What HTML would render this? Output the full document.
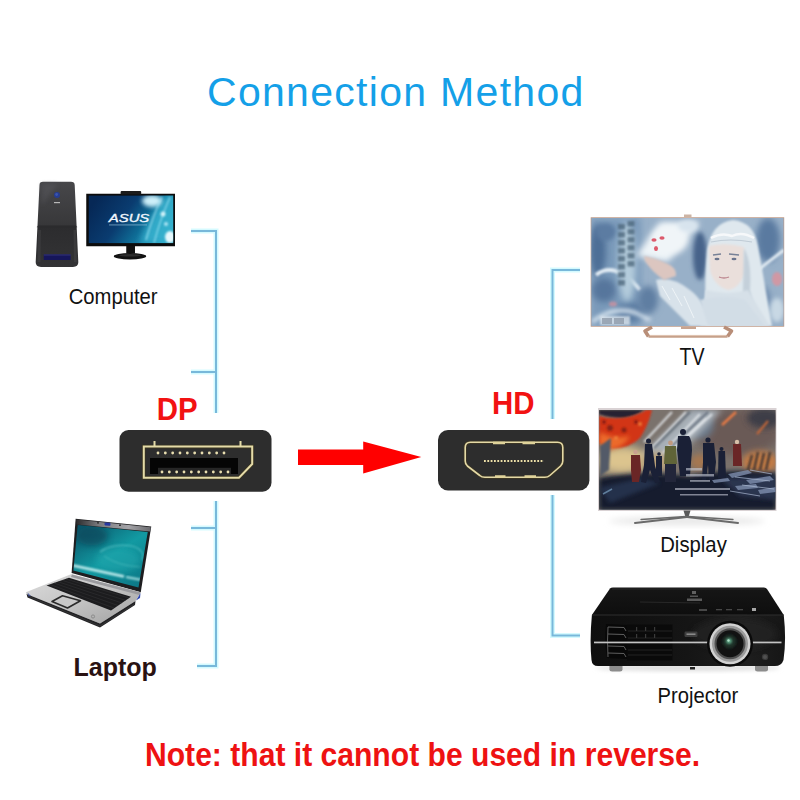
<!DOCTYPE html>
<html><head><meta charset="utf-8">
<style>
html,body{margin:0;padding:0;background:#fff;width:800px;height:800px;overflow:hidden}
svg{display:block}
text{font-family:"Liberation Sans",sans-serif}
</style></head><body>
<svg width="800" height="800" viewBox="0 0 800 800">
<rect width="800" height="800" fill="#fff"/>
<defs>
<filter id="b1" x="-50%" y="-50%" width="200%" height="200%"><feGaussianBlur stdDeviation="1"/></filter>
<filter id="b2" x="-50%" y="-50%" width="200%" height="200%"><feGaussianBlur stdDeviation="2"/></filter>
<filter id="b3" x="-50%" y="-50%" width="200%" height="200%"><feGaussianBlur stdDeviation="3"/></filter>
<filter id="b5" x="-50%" y="-50%" width="200%" height="200%"><feGaussianBlur stdDeviation="5"/></filter>
<linearGradient id="towerG" x1="0" y1="0" x2="0" y2="1">
 <stop offset="0" stop-color="#47474a"/><stop offset="0.5" stop-color="#38383a"/><stop offset="0.52" stop-color="#2c2c2e"/><stop offset="1" stop-color="#333335"/>
</linearGradient>
<linearGradient id="monG" x1="0" y1="0.3" x2="1" y2="0.7">
 <stop offset="0" stop-color="#062856"/><stop offset="0.4" stop-color="#0a3c70"/><stop offset="0.65" stop-color="#0e6a94"/><stop offset="1" stop-color="#2ea8c8"/>
</linearGradient>
<linearGradient id="lapScr" x1="0" y1="0" x2="0.8" y2="1">
 <stop offset="0" stop-color="#0a4e64"/><stop offset="0.55" stop-color="#129aa2"/><stop offset="1" stop-color="#0d7a88"/>
</linearGradient>
<linearGradient id="lapBez" x1="0" y1="0" x2="1" y2="0">
 <stop offset="0" stop-color="#2a2a2c"/><stop offset="0.3" stop-color="#7a7a7e"/><stop offset="0.7" stop-color="#a4a4a8"/><stop offset="1" stop-color="#6a6a6e"/>
</linearGradient>
<linearGradient id="lapDeck" x1="0" y1="0" x2="1" y2="1">
 <stop offset="0" stop-color="#dcdcdc"/><stop offset="0.5" stop-color="#c4c4c4"/><stop offset="1" stop-color="#a0a0a0"/>
</linearGradient>
<linearGradient id="projTop" x1="0" y1="0" x2="0" y2="1">
 <stop offset="0" stop-color="#161616"/><stop offset="1" stop-color="#0e0e0e"/>
</linearGradient>
<linearGradient id="projFront" x1="0" y1="0" x2="1" y2="0">
 <stop offset="0" stop-color="#0e0e0e"/><stop offset="0.5" stop-color="#151515"/><stop offset="0.8" stop-color="#1e1e1e"/><stop offset="1" stop-color="#161616"/>
</linearGradient>
<clipPath id="tvClip"><rect x="591.5" y="218" width="192" height="108"/></clipPath>
<clipPath id="dispClip"><rect x="599" y="410" width="176.5" height="100"/></clipPath>
<clipPath id="monClip"><rect x="88.75" y="195.6" width="84.4" height="47.5"/></clipPath>
<clipPath id="lapClip"><path d="M77.75 524.9 L147.75 531.9 L138.1 588.75 L73.4 570.4 Z"/></clipPath>
</defs>

<!-- title -->
<text x="207" y="105.5" font-size="41" fill="#14a0e8" letter-spacing="1.3">Connection Method</text>

<!-- blue lines left -->
<g stroke="#d0faff" stroke-width="5" fill="none" opacity="0.9">
<path d="M191 231 H216 V413"/><path d="M191 372 H216"/><path d="M216 501 V666 H197"/><path d="M191 528 H216"/><path d="M580 270 H552.5 V419"/><path d="M552.5 495 V635.5 H580"/>
</g>
<g stroke="#78b8da" stroke-width="2" fill="none">
<path d="M191 231 H216 V413"/>
<path d="M191 372 H216"/>
<path d="M216 501 V666 H197"/>
<path d="M191 528 H216"/>
<!-- right -->
<path d="M580 270 H552.5 V419"/>
<path d="M552.5 495 V635.5 H580"/>
</g>

<!-- labels -->
<text transform="translate(68.7 303.5) scale(0.9 1)" font-size="22.5" fill="#111">Computer</text>
<text x="73.5" y="675.5" font-size="25" font-weight="bold" fill="#2a1212">Laptop</text>
<text transform="translate(679.6 364.75) scale(0.84 1)" font-size="23.35" fill="#111">TV</text>
<text transform="translate(660.2 551.8) scale(0.913 1)" font-size="22.25" fill="#111">Display</text>
<text transform="translate(657.5 702.8) scale(0.894 1)" font-size="22.6" fill="#111">Projector</text>
<text transform="translate(156.8 419.6) scale(0.92 1)" font-size="32" font-weight="bold" fill="#f21212">DP</text>
<text transform="translate(492 413.9) scale(0.92 1)" font-size="32" font-weight="bold" fill="#f21212">HD</text>
<text transform="translate(145 765.8) scale(0.912 1)" font-size="33" font-weight="bold" fill="#ee1212">Note: that it cannot be used in reverse.</text>

<!-- arrow -->
<path d="M298 449.6 H363.2 V441.4 L421.3 457.1 L363.2 473.4 V465 H298 Z" fill="#ff0000"/>

<!-- DP connector -->
<rect x="119.5" y="430" width="152" height="61.7" rx="9" fill="#2d2d2d"/>
<path d="M143.8 446.6 H252.2 V464 L239 477.8 H143.8 Z" fill="#2d2d2d" stroke="#3a3420" stroke-width="3.6"/>
<path d="M143.8 446.6 H252.2 V464 L239 477.8 H143.8 Z" fill="none" stroke="#e4dba8" stroke-width="2"/>
<rect x="150" y="458" width="88" height="16" fill="#050505"/>
<rect x="158" y="467.8" width="73" height="6.2" fill="#262626"/>
<path d="M154.5 441 V446 M240.5 441 V446" stroke="#e4dba8" stroke-width="2"/>
<g fill="#eadfb0">
<circle cx="158" cy="453" r="1.4"/><circle cx="165.33" cy="453" r="1.4"/><circle cx="172.67" cy="453" r="1.4"/><circle cx="180" cy="453" r="1.4"/><circle cx="187.33" cy="453" r="1.4"/><circle cx="194.67" cy="453" r="1.4"/><circle cx="202" cy="453" r="1.4"/><circle cx="209.33" cy="453" r="1.4"/><circle cx="216.67" cy="453" r="1.4"/><circle cx="224" cy="453" r="1.4"/>
<circle cx="162" cy="472" r="1.4"/><circle cx="169.33" cy="472" r="1.4"/><circle cx="176.67" cy="472" r="1.4"/><circle cx="184" cy="472" r="1.4"/><circle cx="191.33" cy="472" r="1.4"/><circle cx="198.67" cy="472" r="1.4"/><circle cx="206" cy="472" r="1.4"/><circle cx="213.33" cy="472" r="1.4"/><circle cx="220.67" cy="472" r="1.4"/><circle cx="228" cy="472" r="1.4"/>
</g>

<!-- HD connector -->
<rect x="438" y="430" width="151.4" height="60.5" rx="10" fill="#2d2d2d"/>
<path id="hdo" d="M470.5 442.3 H557.5 Q562.8 442.3 562.8 447.5 V461 Q562.8 464 560.6 466 L549.8 475.5 Q547.8 477.3 544.8 477.3 H484.8 Q481.8 477.3 479.8 475.5 L467.4 466 Q465.2 464 465.2 461 V447.5 Q465.2 442.3 470.5 442.3 Z" fill="none" stroke="#3c3624" stroke-width="3.2" stroke-linejoin="round"/>
<path d="M470.5 442.3 H557.5 Q562.8 442.3 562.8 447.5 V461 Q562.8 464 560.6 466 L549.8 475.5 Q547.8 477.3 544.8 477.3 H484.8 Q481.8 477.3 479.8 475.5 L467.4 466 Q465.2 464 465.2 461 V447.5 Q465.2 442.3 470.5 442.3 Z" fill="none" stroke="#e4d9a6" stroke-width="1.6" stroke-linejoin="round"/>
<path d="M493 443 H505 M522.5 443 H535 M495 476.6 H505.5 M524.5 476.6 H536" stroke="#e0d39a" stroke-width="2.6"/>
<line x1="484" y1="461" x2="544" y2="461" stroke="#ecdfa8" stroke-width="1.8" stroke-dasharray="1.8 1.53"/>

<!-- computer -->
<g>
<path d="M39.5 185 Q39.5 181.8 43 181.8 H71 Q74.5 181.8 74.7 185 L78.3 262 Q78.5 267 73 267 H41 Q35.5 267 35.7 262 Z" fill="url(#towerG)"/>
<path d="M37 226 L77 226 L77.2 227.5 L36.8 227.5 Z" fill="#29292b" opacity="0.5"/>
<path d="M41.5 184 Q48 183 58 184 L42 205 Z" fill="#5a5a5e" opacity="0.45" filter="url(#b2)"/>
<path d="M38 230 L41 230 L40.5 262 L37.5 262 Z" fill="#444446" opacity="0.5"/>
<path d="M73.5 230 L76.2 230 L76.8 262 L74 262 Z" fill="#444446" opacity="0.5"/>
<rect x="43.75" y="254.4" width="26.9" height="5.6" fill="#16165a"/>
<rect x="43.75" y="254.4" width="26.9" height="1.2" fill="#3a3a80" opacity="0.7"/>
<circle cx="57" cy="195" r="3" fill="#263c92"/>
<circle cx="56.6" cy="194.5" r="1.4" fill="#4a68c0" opacity="0.6"/>
<rect x="54" y="202" width="6" height="1.2" fill="#b8b8b8"/>
<rect x="86.25" y="193.75" width="88.75" height="52.5" fill="#0c0c0c"/>
<rect x="120.6" y="191" width="20.6" height="3.5" rx="1" fill="#1c1c1c"/>
<rect x="88.75" y="195.6" width="84.4" height="47.5" fill="url(#monG)"/>
<g clip-path="url(#monClip)">
<path d="M140 243 Q150 215 165 195 L180 195 L180 243 Z" fill="#38b4d0" opacity="0.8" filter="url(#b3)"/>
<ellipse cx="152" cy="201" rx="10" ry="6" fill="#d8f8ff" opacity="0.95" filter="url(#b2)"/>
<path d="M146 240 Q152 218 162 197" stroke="#b8f0ff" stroke-width="1.2" fill="none" opacity="0.8" filter="url(#b1)"/>
<path d="M154 243 Q160 220 170 197" stroke="#b8f0ff" stroke-width="1.2" fill="none" opacity="0.7" filter="url(#b1)"/>
<circle cx="163" cy="214" r="2.5" fill="#e8fcff" opacity="0.85" filter="url(#b1)"/>
<ellipse cx="170" cy="237" rx="5" ry="6" fill="#f0fcff" opacity="0.95" filter="url(#b1)"/>
<ellipse cx="166" cy="224" rx="2" ry="2" fill="#d0f4ff" opacity="0.8" filter="url(#b1)"/>
</g>
<text x="108.8" y="222.3" font-size="11" font-style="italic" fill="#f2f8ff" textLength="40.5" lengthAdjust="spacingAndGlyphs" stroke="#f2f8ff" stroke-width="0.3">ASUS</text>
<rect x="109" y="224.6" width="38" height="0.7" fill="#90bcd8"/>
<rect x="126.25" y="246" width="8.75" height="7.5" fill="#111"/>
<ellipse cx="130" cy="256.2" rx="16.2" ry="3.2" fill="#121212"/>
<ellipse cx="130" cy="255.3" rx="11" ry="1.3" fill="#4a4a4a" opacity="0.5"/>
</g>
<!-- laptop -->
<g>
<path d="M75.65 518.75 L151.25 526.6 L140.75 592.25 L71.6 573 Z" fill="#1e1e20"/>
<path d="M76 519.5 L150.8 527.3 L150.2 531.5 L76.5 524.5 Z" fill="url(#lapBez)"/>
<path d="M77.75 524.9 L147.75 531.9 L138.5 587.5 L73.4 570.4 Z" fill="url(#lapScr)"/>
<g clip-path="url(#lapClip)">
<ellipse cx="92" cy="536" rx="16" ry="10" fill="#07465a" opacity="0.7" filter="url(#b3)"/>
<ellipse cx="118" cy="560" rx="22" ry="12" fill="#20a8ae" opacity="0.55" filter="url(#b3)"/>
<path d="M100 552 Q112 543 132 546 Q146 550 142 560" fill="none" stroke="#70d0d0" stroke-width="1.1" opacity="0.75" filter="url(#b1)"/>
<path d="M104 556 Q118 566 140 567" fill="none" stroke="#60c8c8" stroke-width="1" opacity="0.6" filter="url(#b1)"/>
<path d="M73 565.5 L124 576.5" stroke="#d0f4f4" stroke-width="2.6" opacity="0.95" filter="url(#b1)"/>
<path d="M126 577 L142 580" stroke="#b8ecec" stroke-width="2.2" opacity="0.9" filter="url(#b1)"/>
</g>
<rect x="104.5" y="522.6" width="6" height="3" rx="1" fill="#2838a0" transform="rotate(6 107 524)"/>
<circle cx="98" cy="522.8" r="0.9" fill="#222"/><circle cx="120" cy="525.2" r="0.9" fill="#222"/>
<path d="M25.8 592.3 L71.6 573.9 L140.75 592.25 L135.5 601 L100 623.5 L26.5 594 Z" fill="url(#lapDeck)"/>
<path d="M26.5 594 L100 623.5 L135.5 601 L135 605 L100 627.5 L27.5 597.5 Z" fill="#222224"/>
<path d="M30 597 L100 626 L134 604.5" stroke="#555" stroke-width="0.6" fill="none" opacity="0.6"/>
<path d="M72 574.5 L140.5 592.5 L139.5 595 L71 577 Z" fill="#9a9a9e"/>
<path d="M46.5 585.4 L69 577.8 L131 596.8 L111 610.6 Z" fill="#1c1c1e"/>
<g stroke="#3a3a3c" stroke-width="0.5" opacity="0.9">
<path d="M50 584.5 L114 608"/><path d="M54 583 L118 605.5"/><path d="M58 581.7 L122 603"/><path d="M62 580.3 L126 600.5"/><path d="M66 579 L129 598"/>
</g>
<path d="M52 601.5 L62.5 595.8 L80.5 600.8 L67.5 608 Z" fill="#c8c8c8" stroke="#2a2a2a" stroke-width="1.6" stroke-linejoin="round"/>
<path d="M136 600.5 L140.5 593 L140 598 Z" fill="#3048b0"/>
<path d="M27.5 592.5 L28.5 596.5 L31 596 Z" fill="#4050a0" opacity="0.8"/>
<circle cx="93" cy="616.5" r="1.6" fill="none" stroke="#666" stroke-width="0.5"/>
</g>
<!-- TV -->
<g>
<rect x="590.7" y="217.3" width="193.5" height="109.4" fill="#bb9580"/>
<rect x="591.8" y="218.4" width="191.3" height="107.2" fill="#9fb4c8"/>
<g clip-path="url(#tvClip)">
<rect x="591" y="218" width="193" height="108" fill="#98b0c8"/>
<rect x="591" y="218" width="50" height="108" fill="#7a9aba" filter="url(#b3)"/>
<ellipse cx="598" cy="250" rx="8" ry="26" fill="#4e6e96" filter="url(#b3)"/>
<ellipse cx="606" cy="232" rx="10" ry="9" fill="#5c7ca2" filter="url(#b2)"/>
<ellipse cx="604" cy="290" rx="12" ry="12" fill="#56769c" filter="url(#b3)"/>
<ellipse cx="630" cy="312" rx="14" ry="10" fill="#5a7aa0" filter="url(#b3)"/>
<path d="M596 275 Q615 260 640 290" stroke="#e2ecf4" stroke-width="4" fill="none" filter="url(#b1)"/>
<path d="M592 322 Q620 300 650 320" stroke="#dce8f2" stroke-width="4" fill="none" filter="url(#b2)"/>
<ellipse cx="627" cy="262" rx="9" ry="40" fill="#b4ccdc" filter="url(#b3)"/>
<path d="M636 256 L660 222 L700 222 L668 262 Z" fill="#eef4f8" filter="url(#b3)"/>
<ellipse cx="670" cy="240" rx="18" ry="14" fill="#f0f5f8" filter="url(#b3)"/>
<ellipse cx="648" cy="300" rx="10" ry="14" fill="#5e7ea2" filter="url(#b3)"/>
<ellipse cx="700" cy="256" rx="7" ry="24" fill="#46648a" filter="url(#b2)"/>
<ellipse cx="688" cy="226" rx="10" ry="6" fill="#d8e4ee" filter="url(#b2)"/>
<ellipse cx="768" cy="240" rx="12" ry="22" fill="#5a7aa0" filter="url(#b3)"/>
<ellipse cx="762" cy="300" rx="8" ry="14" fill="#6684a8" filter="url(#b3)"/>
<path d="M758 270 L784 250" stroke="#e0eaf2" stroke-width="3" filter="url(#b1)"/>
<ellipse cx="777" cy="310" rx="7" ry="12" fill="#c8d8e4" filter="url(#b2)"/>
<ellipse cx="777" cy="279" rx="5" ry="7" fill="#d098a4" filter="url(#b1)"/>
<!-- figure hair / hood -->
<path d="M706 326 Q704 280 707 250 Q712 222 733 220 Q754 222 758 246 Q764 280 772 326 Z" fill="#dfe8ee" filter="url(#b1)"/>
<path d="M711 238 Q722 232 732 236 Q742 231 754 238" stroke="#f6f8fa" stroke-width="2.5" fill="none"/>
<path d="M711 242 Q730 238 752 242" stroke="#b8c4d0" stroke-width="1.2" fill="none" opacity="0.8"/>
<!-- face -->
<path d="M709 246 Q726 242 744 247 L745 272 Q740 288 728 290 Q714 286 710 270 Z" fill="#eadfdb" filter="url(#b1)"/>
<g stroke="#5a6a86" stroke-width="1.4" opacity="0.8"><path d="M713 255 L721 254"/><path d="M729 254 L739 255"/></g>
<g fill="#4a5a7a" opacity="0.8"><ellipse cx="717" cy="259" rx="2.5" ry="1.2"/><ellipse cx="734" cy="259" rx="2.5" ry="1.2"/></g>
<path d="M719 277 Q724 279 729 277" stroke="#b88088" stroke-width="1.3" fill="none" opacity="0.9"/>
<path d="M744 248 Q752 262 750 290 L758 326 H742 L743 290 Z" fill="#c4d0da" filter="url(#b1)"/>
<path d="M706 290 Q728 296 748 290 L770 326 H700 Z" fill="#d6e0e8" filter="url(#b1)"/>
<!-- arm sleeve -->
<path d="M656 280 Q672 276 690 290 Q704 300 712 326 H690 Q676 312 660 296 Z" fill="#d8e2ea" filter="url(#b1)"/>
<g stroke="#f4f8fa" stroke-width="1" opacity="0.8"><path d="M662 286 L670 300"/><path d="M672 288 L682 306"/><path d="M684 296 L694 318"/></g>
<path d="M700 300 Q728 294 745 300 L765 326 H708 Z" fill="#d2dde6" filter="url(#b1)"/>
<!-- hand -->
<path d="M644 256 Q656 258 668 264 Q677 268 676 276 L664 280 Q652 272 645 261 Z" fill="#dcc6c0" filter="url(#b1)"/>
<!-- text columns -->
<g fill="#4a6478" opacity="0.75" filter="url(#b1)">
<rect x="627.5" y="221" width="7" height="5.5"/><rect x="627.5" y="229" width="7" height="5.5"/><rect x="627.5" y="237" width="7" height="5.5"/><rect x="627.5" y="245" width="7" height="5.5"/><rect x="627.5" y="253" width="7" height="5.5"/><rect x="627.5" y="261" width="7" height="5.5"/>
<rect x="618" y="224" width="7" height="5.5"/><rect x="618" y="232" width="7" height="5.5"/><rect x="618" y="240" width="7" height="5.5"/><rect x="618" y="248" width="7" height="5.5"/><rect x="618" y="256" width="7" height="5.5"/><rect x="618" y="264" width="7" height="5.5"/><rect x="618" y="272" width="7" height="5.5"/><rect x="618" y="280" width="7" height="5.5"/>
</g>
<g fill="#e8eef2" opacity="0.7" filter="url(#b1)"><rect x="600" y="316" width="30" height="9"/></g>
<g fill="#7e8a9a" opacity="0.6"><rect x="602" y="318" width="10" height="6"/><rect x="614" y="318" width="10" height="6"/></g>
<ellipse cx="613" cy="304" rx="4" ry="2.5" fill="#d8909c" opacity="0.7" filter="url(#b1)"/>
<g fill="#dc5a6c"><ellipse cx="654" cy="240" rx="2.6" ry="1.8"/><ellipse cx="662" cy="238" rx="2.6" ry="1.8"/><ellipse cx="656" cy="248.5" rx="2" ry="2.6"/></g>
</g>
<rect x="684" y="214.5" width="7.5" height="3" fill="#cdb4a4"/>
<path d="M652 327 L645 331 L648.5 336.5" fill="none" stroke="#b88e78" stroke-width="3.6" stroke-linejoin="round"/>
<path d="M724 327 L731.5 331 L727.5 336.5" fill="none" stroke="#b88e78" stroke-width="3.6" stroke-linejoin="round"/>
<path d="M648.5 336.5 H727.5" stroke="#c6a08a" stroke-width="2.6"/>
<path d="M650 335.4 H726" stroke="#e2c8b6" stroke-width="0.8"/>
<rect x="681" y="326.5" width="15" height="2.5" fill="#c8a490"/>
</g>
<!-- Display -->
<g>
<ellipse cx="687" cy="521" rx="78" ry="4" fill="#e6e6e6" filter="url(#b3)"/>
<rect x="598" y="408" width="178.5" height="103" fill="#d9d2d4"/>
<rect x="599" y="410" width="176.5" height="99.5" fill="#7a726c"/>
<g clip-path="url(#dispClip)">
<!-- right smoke brown -->
<ellipse cx="738" cy="432" rx="42" ry="24" fill="#6a5a56" filter="url(#b5)"/>
<ellipse cx="765" cy="418" rx="18" ry="10" fill="#3c3c46" filter="url(#b3)"/>
<ellipse cx="700" cy="425" rx="14" ry="14" fill="#6a7888" filter="url(#b3)"/>
<!-- smoke streaks light -->
<path d="M636 460 L690 410 L722 410 L668 466 Z" fill="#a8b0b8" filter="url(#b3)"/>
<g stroke="#e4e8ec" stroke-width="2.2" opacity="0.85" filter="url(#b1)">
<path d="M648 452 L686 412"/><path d="M660 456 L700 414"/><path d="M644 442 L672 412"/><path d="M668 452 L706 418"/><path d="M676 448 L712 414"/>
</g>
<g stroke="#4c5868" stroke-width="1.8" opacity="0.7" filter="url(#b1)">
<path d="M654 448 L690 412"/><path d="M672 446 L708 412"/><path d="M662 440 L680 422"/>
</g>
<!-- top left dark -->
<path d="M599 410 H644 Q636 416 624 418 Q610 418 599 414 Z" fill="#282232" filter="url(#b1)"/>
<!-- yellow/tan haze -->
<ellipse cx="622" cy="460" rx="26" ry="14" fill="#dcc48e" filter="url(#b5)"/>
<ellipse cx="655" cy="462" rx="14" ry="10" fill="#b8a078" filter="url(#b3)"/>
<!-- fire -->
<path d="M599 416 Q612 420 628 417 Q640 414 646 410 L652 410 Q648 426 640 438 Q630 448 614 448 Q604 446 599 442 Z" fill="#d23418" filter="url(#b1)"/>
<path d="M600 432 Q614 440 630 436 Q624 448 608 450 Q601 446 599 442 Z" fill="#ec6a2a" filter="url(#b2)"/>
<g fill="#6e1a12" opacity="0.75" filter="url(#b1)"><circle cx="610" cy="428" r="3"/><circle cx="624" cy="430" r="2.5"/><circle cx="636" cy="422" r="2"/><circle cx="604" cy="422" r="2"/></g>
<g fill="#f08a40" opacity="0.8" filter="url(#b1)"><circle cx="640" cy="424" r="2"/><circle cx="616" cy="438" r="2"/></g>
<path d="M722 425 L736 412" stroke="#e87a44" stroke-width="2.5" filter="url(#b1)"/>
<path d="M757 434 L768 421" stroke="#c86838" stroke-width="2" filter="url(#b1)"/>
<ellipse cx="760" cy="462" rx="18" ry="11" fill="#c47c44" filter="url(#b3)"/>
<ellipse cx="700" cy="462" rx="10" ry="8" fill="#b07848" opacity="0.8" filter="url(#b3)"/>
<!-- ship left -->
<path d="M600 446 L611 438 L609 470 L600 476 Z" fill="#525a68" filter="url(#b1)"/>
<!-- ship right (structure) -->
<g stroke="#3a3230" stroke-width="2.2" filter="url(#b1)"><path d="M748 470 L752 455"/><path d="M754 470 L758 452"/><path d="M760 470 L764 453"/><path d="M766 470 L770 452"/></g>
<!-- bottom dark -->
<path d="M599 478 Q640 470 690 476 Q730 468 776 473 V510 H599 Z" fill="#171b2e" filter="url(#b2)"/>
<path d="M720 478 L776 476 L776 500 L740 496 Z" fill="#2a3450" filter="url(#b2)"/>
<g fill="#8494b4" opacity="0.75">
<path d="M728 474 L748 470 L752 473 L732 478 Z"/><path d="M746 480 L770 476 L774 480 L750 484 Z"/><path d="M735 486 L756 484 L758 488 L738 490 Z"/><path d="M758 490 L776 487 V492 L760 494 Z"/><path d="M712 480 L728 478 L730 481 L714 483 Z"/>
</g>
<g stroke="#aab8d0" stroke-width="1" opacity="0.7"><path d="M735 477 L770 481"/><path d="M742 485 L774 489"/><path d="M730 491 L760 496"/><path d="M750 470 L772 474"/></g>
<path d="M599 488 L640 478 L660 483 L610 503 Z" fill="#2c3a58" opacity="0.7" filter="url(#b2)"/>
<path d="M603 494 L612 489" stroke="#7aa0c0" stroke-width="1.5" opacity="0.7"/>
<!-- figures -->
<g fill="#1a2036">
<circle cx="648.5" cy="441" r="2.5"/><path d="M645 444 H652 L655 466 L660 482 L655 483 L650 470 L646 483 L641 482 L644 465 Z"/>
<circle cx="659" cy="454" r="1.8"/><path d="M656 456 H662 V476 H656 Z"/>
<circle cx="683" cy="432" r="3"/><path d="M678 436 H689 Q692 440 692 450 L690 476 H680 L677 450 Z"/>
<circle cx="708" cy="440" r="2.6"/><path d="M703 443 H714 L716 462 L714 480 H709 L708 465 L706 480 H702 L703 462 Z"/>
<circle cx="721.5" cy="449" r="2"/><path d="M718.5 451 H725 L726 478 H718 Z"/>
</g>
<circle cx="635.5" cy="452" r="2.2" fill="#c8a090"/>
<path d="M631 455 H640 L641 470 L639 482 H632 L631 470 Z" fill="#6a2626"/>
<circle cx="670.5" cy="443" r="2.4" fill="#c09a80"/>
<path d="M665 446 H676 L677 464 H664 Z" fill="#606438"/>
<path d="M665 464 H676 V482 H665 Z" fill="#22263a"/>
<circle cx="737" cy="442" r="2.2" fill="#d8c0a8"/>
<path d="M733 444 H741 L742 466 H733 Z" fill="#6a2626"/>
<!-- text -->
<g fill="#c8ccd8" opacity="0.6"><rect x="686" y="468" width="16" height="2.5"/><rect x="686" y="474" width="28" height="2.5"/><rect x="690" y="480" width="20" height="1.8"/><rect x="675" y="488" width="55" height="2"/><rect x="680" y="494" width="48" height="1.5"/></g>
</g>
<path d="M683.5 510.5 H690.5 L688.5 517 H685.5 Z" fill="#5a5a5a"/>
<g stroke="#6a6a6a" fill="none" stroke-linecap="round">
<path d="M687 517 L635 523" stroke-width="2"/><path d="M687 517 L738 523" stroke-width="2"/>
<path d="M686 516.5 L641 519.5" stroke-width="1.3"/><path d="M688 516.5 L733 519.5" stroke-width="1.3"/>
</g>
</g>
<!-- Projector -->
<g>
<ellipse cx="688" cy="668" rx="92" ry="3" fill="#dcdcdc" filter="url(#b2)"/>
<path d="M610 588.5 Q611 587.5 613 587.5 L764 587.5 Q766 587.5 767 589 L783.75 615 L591.9 615 Z" fill="url(#projTop)"/>
<path d="M591.9 615 L783.75 615 Q786.5 640 783.5 660 Q781.5 666 775 666 L598 666 Q592 666 591.5 660 Q589.5 640 591.9 615 Z" fill="url(#projFront)"/>
<path d="M592 615 L783.75 615" stroke="#2e2e2e" stroke-width="1.2"/>
<path d="M612 589 L765 589" stroke="#2e2e2e" stroke-width="0.8"/>
<path d="M640 602 L700 603" stroke="#282828" stroke-width="1"/>
<!-- right side lighter shading near lens -->
<ellipse cx="735" cy="634" rx="42" ry="16" fill="#262626" opacity="0.6" filter="url(#b3)"/>
<!-- vent -->
<path d="M606 624 L627 625 V659 L607 658 Q604 641 606 624 Z" fill="#080808"/>
<g stroke="#5e5e5e" stroke-width="1" fill="none">
<path d="M608 627 Q607 641 608 657"/>
<path d="M608 627 L624 627.5 L626 631"/><path d="M608 634 L624 634.5 L626 638"/><path d="M608 646 L624 646.5 L626 650"/><path d="M608 653 L624 653.5 L626 657"/>
</g>
<rect x="627" y="624.5" width="45.5" height="36" fill="#0a0a0a"/>
<g stroke="#222" stroke-width="1"><path d="M628 631 H672"/><path d="M628 638 H672"/><path d="M628 650 H672"/><path d="M628 655 H672"/></g>
<g fill="#3a3a3a"><rect x="636" y="627" width="1.2" height="4"/><rect x="645" y="627" width="1.2" height="4"/><rect x="654" y="627" width="1.2" height="4"/><rect x="636" y="634" width="1.2" height="4"/><rect x="645" y="634" width="1.2" height="4"/><rect x="654" y="634" width="1.2" height="4"/></g>
<rect x="594" y="641.6" width="117" height="1.7" fill="#c4c4c4"/>
<rect x="752.5" y="641.6" width="29" height="1.7" fill="#c4c4c4"/>
<rect x="684.5" y="631.5" width="13" height="5.5" rx="1.2" fill="#3e3e3e"/>
<rect x="686.5" y="633.5" width="9" height="1.4" fill="#a8a8a8" opacity="0.8"/>
<!-- lens -->
<circle cx="730" cy="643.75" r="23" fill="#0a0a0a"/>
<circle cx="730" cy="643.75" r="20.5" fill="#d2d2d2"/>
<circle cx="730" cy="643.75" r="18" fill="#9a9a9a"/>
<circle cx="730" cy="643.75" r="15.5" fill="#505050"/>
<circle cx="730" cy="643.75" r="13.5" fill="#121212"/>
<circle cx="729.5" cy="641.5" r="7" fill="#1e2e26" filter="url(#b1)"/>
<circle cx="729" cy="641" r="3" fill="#5aa080" filter="url(#b1)"/>
<circle cx="728.5" cy="640.5" r="1.2" fill="#b0e0c8"/>
<circle cx="765" cy="656.9" r="3.2" fill="#3a3a3a"/>
<circle cx="765" cy="656.9" r="2" fill="#505050"/>
<path d="M609.4 666 H622.5 V669.5 Q622.5 671.5 620 671.5 H612 Q609.4 671.5 609.4 669.5 Z" fill="#8c8c8c"/>
<path d="M755 666 H768 V669.5 Q768 671.5 765.5 671.5 H757.5 Q755 671.5 755 669.5 Z" fill="#8c8c8c"/>
<rect x="690" y="667" width="5" height="2.5" fill="#222"/>
<!-- top labels -->
<rect x="692" y="591" width="4" height="3" fill="#808080" opacity="0.7"/>
<rect x="690" y="595.5" width="8" height="1.5" fill="#808080" opacity="0.6"/>
<rect x="687" y="598.5" width="15" height="2.5" fill="#8a8a8a" opacity="0.6"/>
<g fill="#555" opacity="0.8"><rect x="699" y="609" width="8" height="2"/><rect x="716" y="609" width="6" height="1.3"/><rect x="726" y="609" width="6" height="1.3"/><rect x="737" y="609" width="6" height="1.3"/></g>
<rect x="752" y="608" width="4" height="3" fill="#ccc" opacity="0.8"/>
</g>
</svg>
</body></html>
